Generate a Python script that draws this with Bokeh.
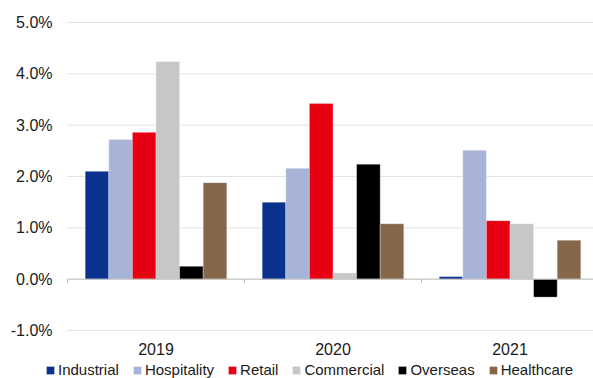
from bokeh.plotting import figure
from bokeh.models import Range1d, Legend, LegendItem, ColumnDataSource
from bokeh.core.properties import value
from bokeh.transform import dodge
from bokeh.embed import file_html
from bokeh.resources import INLINE

# Annual growth by sector (%)
years = ["2019", "2020", "2021"]
industrial = [2.10, 1.50, 0.05]
hospitality = [2.72, 2.16, 2.51]
retail = [2.86, 3.42, 1.14]
commercial = [4.24, 0.12, 1.08]
overseas = [0.25, 2.24, -0.35]
healthcare = [1.88, 1.08, 0.76]

series_names = ["Industrial", "Hospitality", "Retail", "Commercial", "Overseas", "Healthcare"]
series_values = [industrial, hospitality, retail, commercial, overseas, healthcare]
colors = ["#0B318F", "#A7B4D8", "#E60012", "#C6C7C9", "#000000", "#87674A"]
y_ticks = [-1, 0, 1, 2, 3, 4, 5]
y_tick_labels = ["-1.0%", "0.0%", "1.0%", "2.0%", "3.0%", "4.0%", "5.0%"]

FONT = "Liberation Sans"
TEXT = "#1a1a1a"

W, H = 593, 378
PAD_L, PAD_T, PAD_B = 67, 22, 48          # plotting area inset, px
PX_PER_CAT = 177.0                          # width of one year group, px
Y_MIN, Y_MAX = -1.0, 5.0
px_per_unit = (H - PAD_T - PAD_B) / (Y_MAX - Y_MIN)
x_end = (W - PAD_L) / PX_PER_CAT

x_centers = [i + 0.5 for i in range(len(years))]
data = {"x": x_centers}
for name, vals in zip(series_names, series_values):
    data[name] = vals
src = ColumnDataSource(data)

p = figure(width=W, height=H, output_backend="svg", toolbar_location=None,
           x_range=Range1d(-PAD_L / PX_PER_CAT, x_end),
           y_range=Range1d(Y_MIN - PAD_B / px_per_unit, Y_MAX + PAD_T / px_per_unit),
           min_border=0)
p.outline_line_color = None
p.background_fill_color = "white"
p.border_fill_color = "white"
p.xaxis.visible = False
p.yaxis.visible = False
p.xgrid.visible = False
p.ygrid.visible = False

# horizontal grid
p.segment(x0=[0] * len(y_ticks), y0=y_ticks, x1=[x_end] * len(y_ticks), y1=y_ticks,
          line_color="#C8C8C8", line_dash="1 1", line_width=1)

bar_w = 0.8 / len(series_names)
renderers = []
for j, (name, col) in enumerate(zip(series_names, colors)):
    off = (j - (len(series_names) - 1) / 2) * bar_w
    r = p.vbar(x=dodge("x", off, range=p.x_range), top=name, bottom=0,
               width=bar_w, source=src, fill_color=col,
               line_color="white", line_width=0.5, line_alpha=0.6)
    renderers.append(r)

# zero line and category boundary ticks
tick_len = 4 / px_per_unit
p.segment(x0=[0], y0=[0], x1=[x_end], y1=[0], line_color="#BFBFBF", line_width=1)
p.segment(x0=[0, 1, 2], y0=[0, 0, 0], x1=[0, 1, 2], y1=[-tick_len] * 3,
          line_color="#BFBFBF", line_width=1)

# y tick labels
p.text(x=[0] * len(y_ticks), y=y_ticks, text=y_tick_labels, x_offset=-15,
       text_align="right", text_baseline="middle", text_color=TEXT,
       text_font=value(FONT), text_font_size="16px")

# year labels
p.text(x=x_centers, y=[Y_MIN] * len(years), text=years, y_offset=18,
       text_align="center", text_baseline="middle", text_color=TEXT,
       text_font=value(FONT), text_font_size="16px")

legend = Legend(items=[LegendItem(label=n, renderers=[r]) for n, r in zip(series_names, renderers)],
                orientation="horizontal", location=(45, 0),
                glyph_width=10, glyph_height=10, label_standoff=3, spacing=13,
                padding=0, margin=0, border_line_color=None,
                background_fill_alpha=0, label_height=16,
                label_text_font=FONT, label_text_font_size="15px",
                label_text_color=TEXT)
p.add_layout(legend, "center")

open("out.html", "w").write(file_html(p, INLINE))
